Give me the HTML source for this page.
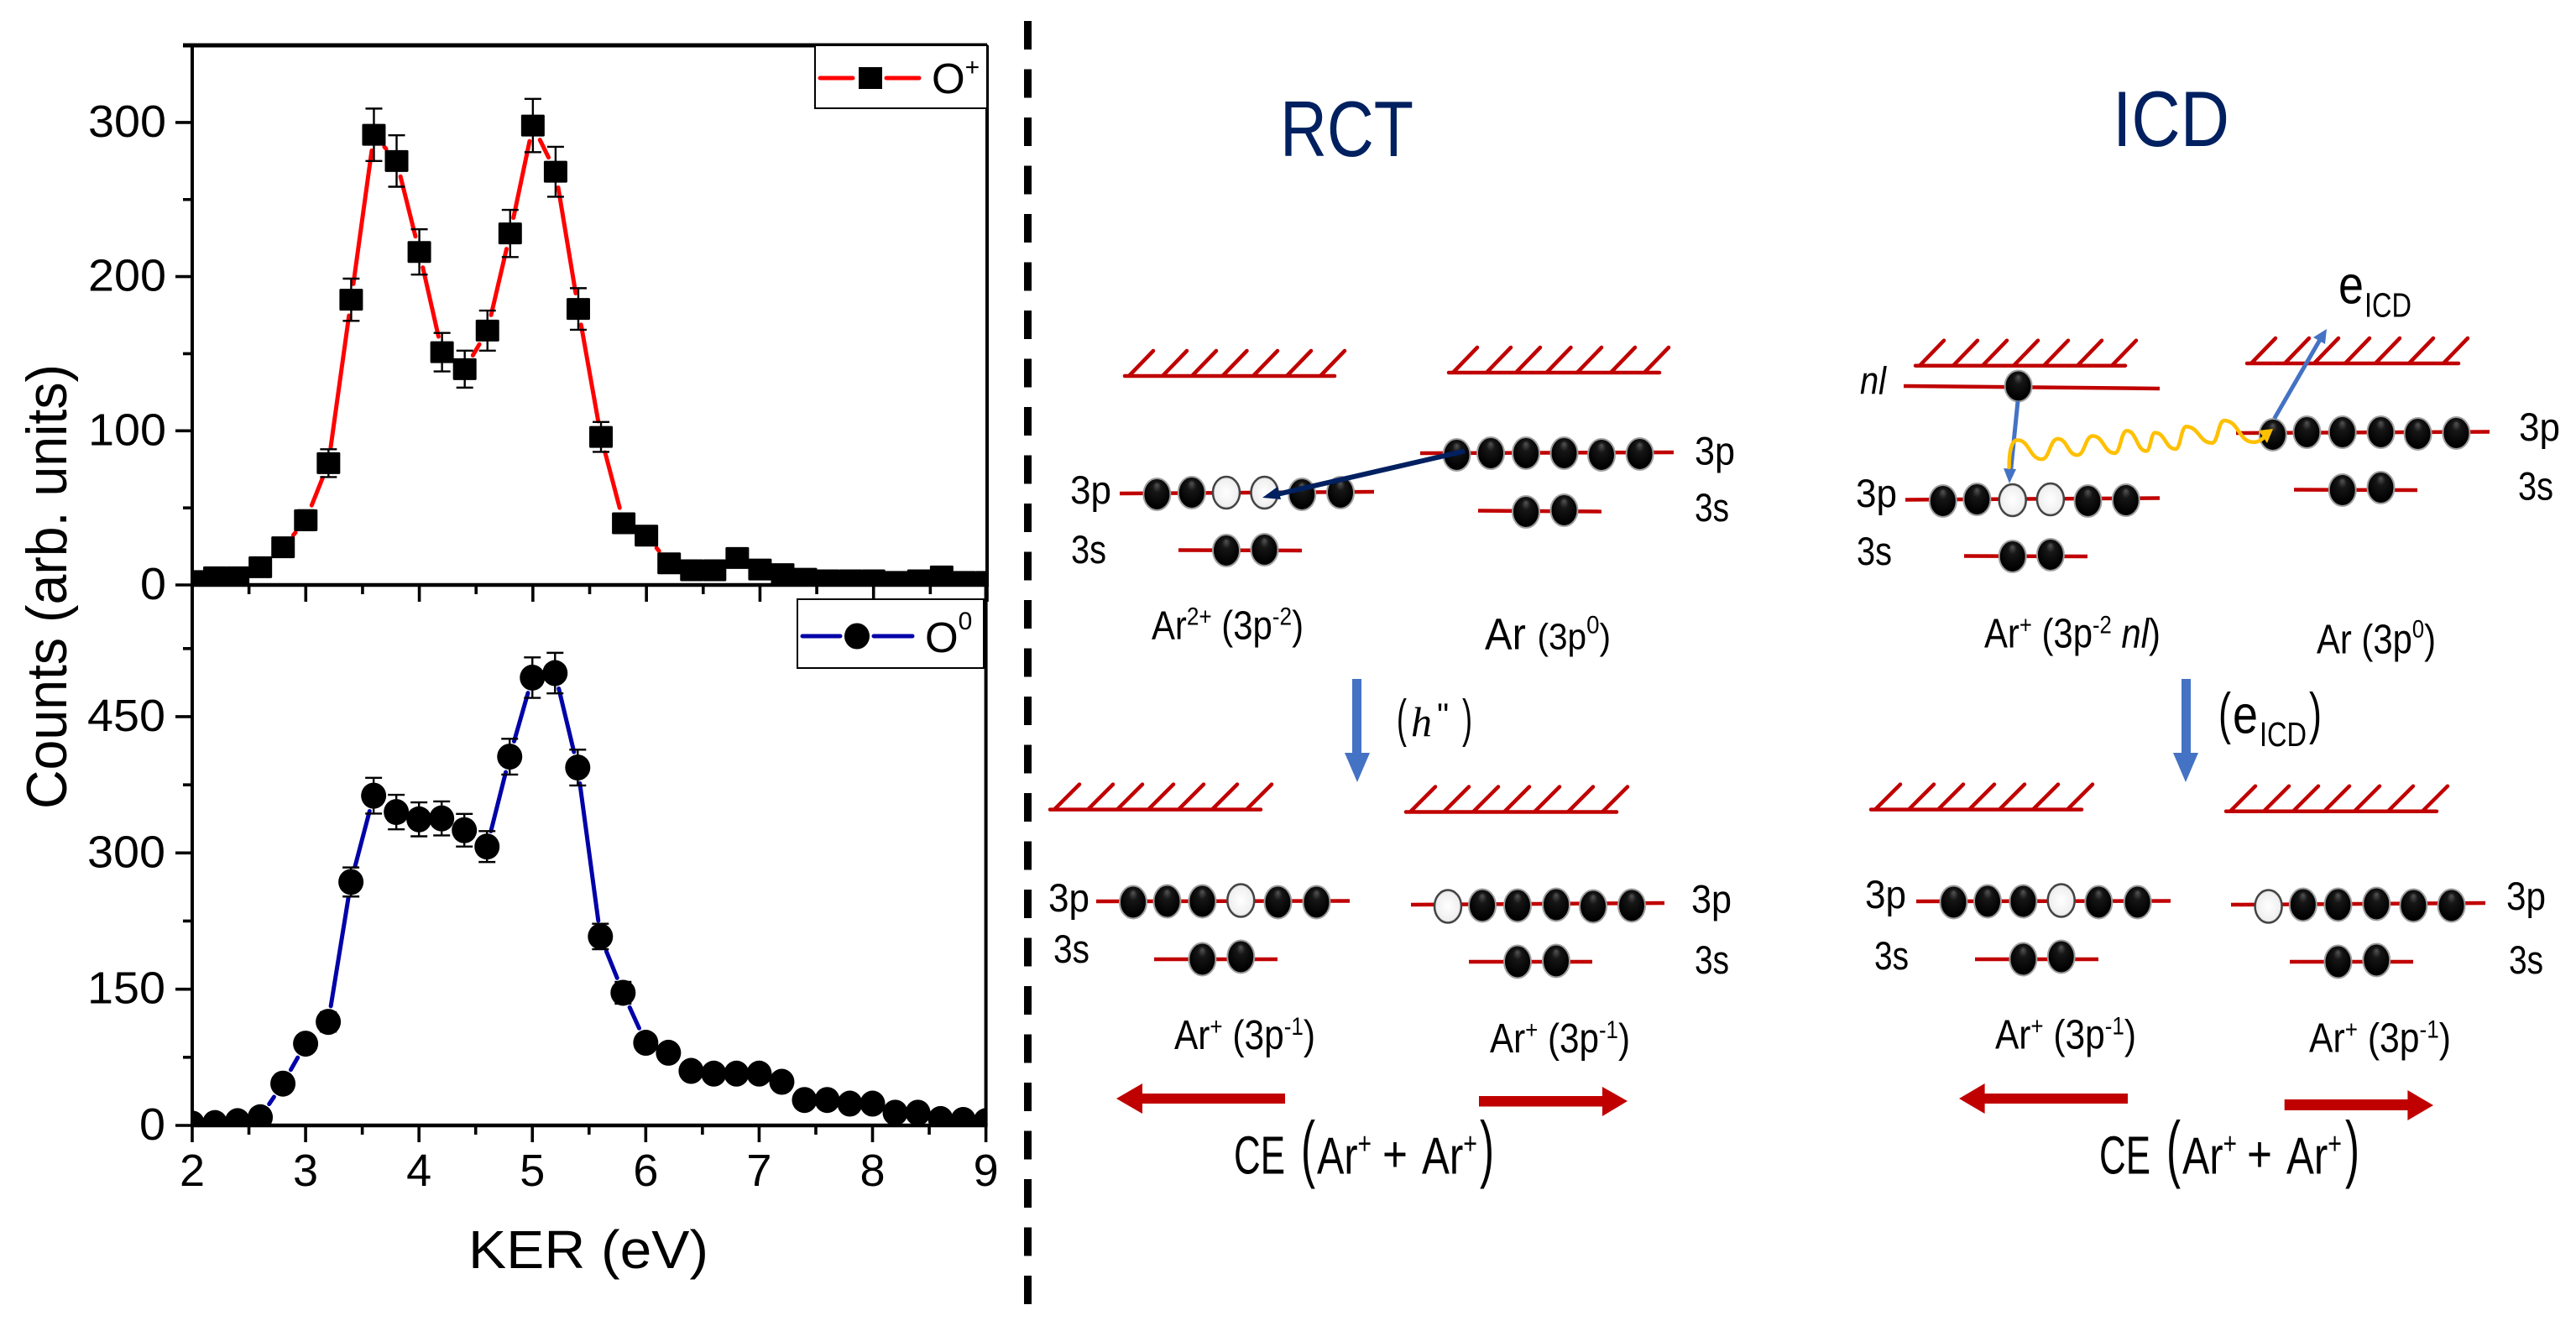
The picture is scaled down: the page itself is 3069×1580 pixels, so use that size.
<!DOCTYPE html>
<html lang="en">
<head>
<meta charset="utf-8">
<title>KER spectra and RCT / ICD schematic</title>
<style>
html,body{margin:0;padding:0;background:#fff;}
svg{display:block;}
text{font-family:"Liberation Sans",sans-serif;fill:#000;}
.lvl{stroke:#c00000;stroke-width:4.5;fill:none;}
.hatch{stroke:#c00000;stroke-width:4.5;fill:none;stroke-linecap:round;}
.ball{fill:url(#ballGrad);stroke:#a0a0a0;stroke-width:2;}
.hole{fill:url(#holeGrad);stroke:#444;stroke-width:2.5;}
.lab{font-size:47px;}
.title{font-size:94px;fill:#002060;}
.tick{font-size:54px;}
</style>
</head>
<body>
<svg id="figure" xmlns="http://www.w3.org/2000/svg" width="3069" height="1580" viewBox="0 0 3069 1580">
<defs>
<radialGradient id="ballGrad" cx="50%" cy="45%" r="55%" fx="50%" fy="20%">
<stop offset="0" stop-color="#555"/><stop offset="0.3" stop-color="#161616"/><stop offset="0.9" stop-color="#000"/><stop offset="1" stop-color="#111"/>
</radialGradient>
<radialGradient id="holeGrad" cx="50%" cy="50%" r="55%">
<stop offset="0" stop-color="#fff"/><stop offset="0.75" stop-color="#f0f0f0"/><stop offset="1" stop-color="#c8c8c8"/>
</radialGradient>
<clipPath id="clipTop"><rect x="227" y="54" width="951" height="643"/></clipPath>
<clipPath id="clipBottom"><rect x="227" y="697" width="949" height="644"/></clipPath>
</defs>
<rect x="0" y="0" width="3069" height="1580" fill="#fff"/>

<g id="chartTop"></g>
<g id="chartBottom"></g>

<text transform="translate(79,964) rotate(-90)" font-size="68" textLength="530" lengthAdjust="spacingAndGlyphs">Counts (arb. units)</text>
<text x="558" y="1511" font-size="64" textLength="286" lengthAdjust="spacingAndGlyphs">KER (eV)</text>

<g>
<rect x="971" y="54" width="205" height="75" fill="#fff" stroke="#000" stroke-width="2"/>
<path d="M977,93H1016M1056,93H1095" stroke="#f00" stroke-width="5" fill="none" stroke-linecap="round"/>
<rect x="1023" y="80" width="28" height="26" fill="#000"/>
<text x="1110" y="111" font-size="51">O<tspan dy="-21" font-size="30">+</tspan></text>
</g>
<g>
<rect x="950" y="714" width="222" height="82" fill="#fff" stroke="#000" stroke-width="2"/>
<path d="M956,758H1001M1041,758H1087" stroke="#0000a8" stroke-width="5" fill="none" stroke-linecap="round"/>
<ellipse cx="1021" cy="758" rx="15" ry="15.5" fill="#000"/>
<text x="1102" y="777" font-size="51">O<tspan dy="-27" font-size="30">0</tspan></text>
</g>

<line x1="1224.5" y1="25" x2="1224.5" y2="1554" stroke="#000" stroke-width="9" stroke-dasharray="34 23.5"/>

<!-- RCT -->
<g>
<text class="title" x="1525" y="186" textLength="159" lengthAdjust="spacingAndGlyphs">RCT</text>

<path class="hatch" d="M1340,448H1590M1345,448l29,-30M1385,448l29,-30M1420,448l29,-30M1456.5,448l29,-30M1493,448l29,-30M1533,448l29,-30M1573,448l29,-30"/>
<path class="hatch" d="M1726,444H1977M1731,444l29,-30M1771,444l29,-30M1806,444l29,-30M1842.5,444l29,-30M1879,444l29,-30M1919,444l29,-30M1959,444l29,-30"/>
<path class="hatch" d="M1251,964.6H1502M1256,964.6l30,-30M1296,964.6l30,-30M1331,964.6l30,-30M1368,964.6l30,-30M1404,964.6l30,-30M1444,964.6l30,-30M1485,964.6l30,-30"/>
<path class="hatch" d="M1675,967.5H1926M1680,967.5l30,-30M1720,967.5l30,-30M1755,967.5l30,-30M1792,967.5l30,-30M1828,967.5l30,-30M1868,967.5l30,-30M1909,967.5l30,-30"/>

<line class="lvl" x1="1334" y1="588" x2="1637" y2="586"/>
<line class="lvl" x1="1404" y1="655.5" x2="1551" y2="656"/>
<line class="lvl" x1="1692" y1="540" x2="1994" y2="539"/>
<line class="lvl" x1="1761" y1="608.5" x2="1908" y2="609.5"/>
<line class="lvl" x1="1306" y1="1074" x2="1608" y2="1073.5"/>
<line class="lvl" x1="1375" y1="1143" x2="1522" y2="1143"/>
<line class="lvl" x1="1681" y1="1078" x2="1983" y2="1076"/>
<line class="lvl" x1="1750" y1="1146" x2="1897" y2="1146"/>

<ellipse class="ball" cx="1378.4" cy="589" rx="16" ry="19"/>
<ellipse class="ball" cx="1419.8" cy="587" rx="16" ry="19"/>
<ellipse class="hole" cx="1461" cy="587" rx="16" ry="19"/>
<ellipse class="hole" cx="1506.5" cy="587" rx="16" ry="19"/>
<ellipse class="ball" cx="1551.2" cy="589" rx="16" ry="19"/>
<ellipse class="ball" cx="1597" cy="587" rx="16" ry="19"/>
<ellipse class="ball" cx="1461" cy="656" rx="16" ry="19"/>
<ellipse class="ball" cx="1506.5" cy="655" rx="16" ry="19"/>

<ellipse class="ball" cx="1735.5" cy="542" rx="16" ry="19"/>
<ellipse class="ball" cx="1776" cy="540" rx="16" ry="19"/>
<ellipse class="ball" cx="1818" cy="540" rx="16" ry="19"/>
<ellipse class="ball" cx="1863.5" cy="540" rx="16" ry="19"/>
<ellipse class="ball" cx="1908" cy="542" rx="16" ry="19"/>
<ellipse class="ball" cx="1953.6" cy="541" rx="16" ry="19"/>
<ellipse class="ball" cx="1818" cy="610" rx="16" ry="19"/>
<ellipse class="ball" cx="1863.5" cy="608" rx="16" ry="19"/>

<line x1="1745" y1="537.5" x2="1515" y2="590.5" stroke="#002060" stroke-width="6"/>
<polygon points="1504,593 1522,580 1526,595" fill="#002060"/>

<text class="lab" x="1275" y="600" textLength="49" lengthAdjust="spacingAndGlyphs">3p</text>
<text class="lab" x="1276" y="671" textLength="42" lengthAdjust="spacingAndGlyphs">3s</text>
<text class="lab" x="2019" y="553.5" textLength="48" lengthAdjust="spacingAndGlyphs">3p</text>
<text class="lab" x="2019" y="621" textLength="41" lengthAdjust="spacingAndGlyphs">3s</text>
<text class="lab" x="1249" y="1086" textLength="49" lengthAdjust="spacingAndGlyphs">3p</text>
<text class="lab" x="1255" y="1147" textLength="43" lengthAdjust="spacingAndGlyphs">3s</text>
<text class="lab" x="2015" y="1087.5" textLength="48" lengthAdjust="spacingAndGlyphs">3p</text>
<text class="lab" x="2019" y="1160" textLength="41" lengthAdjust="spacingAndGlyphs">3s</text>

<text x="1372" y="761.5" font-size="48" textLength="181" lengthAdjust="spacingAndGlyphs">Ar<tspan dy="-17" font-size="30">2+</tspan><tspan dy="17"> (3p</tspan><tspan dy="-17" font-size="30">-2</tspan><tspan dy="17">)</tspan></text>
<text x="1769" y="773.5" font-size="53" textLength="150" lengthAdjust="spacingAndGlyphs">Ar <tspan font-size="44">(3p</tspan><tspan dy="-19" font-size="30">0</tspan><tspan dy="19" font-size="44">)</tspan></text>

<rect x="1611" y="809" width="11" height="89" fill="#4472c4"/>
<polygon points="1602,897 1632,897 1617,932" fill="#4472c4"/>
<text x="1664" y="877" font-size="62" textLength="12" lengthAdjust="spacingAndGlyphs">(</text>
<text x="1681" y="877" font-size="50" font-style="italic" style="font-family:'Liberation Serif',serif">h</text>
<text x="1712" y="866" font-size="40">"</text>
<text x="1742" y="877" font-size="62" textLength="12" lengthAdjust="spacingAndGlyphs">)</text>

<text x="1399" y="1250" font-size="49" textLength="168" lengthAdjust="spacingAndGlyphs">Ar<tspan dy="-17" font-size="30">+</tspan><tspan dy="17"> (3p</tspan><tspan dy="-17" font-size="30">-1</tspan><tspan dy="17">)</tspan></text>
<text x="1775" y="1254" font-size="49" textLength="167" lengthAdjust="spacingAndGlyphs">Ar<tspan dy="-17" font-size="30">+</tspan><tspan dy="17"> (3p</tspan><tspan dy="-17" font-size="30">-1</tspan><tspan dy="17">)</tspan></text>

<ellipse class="ball" cx="1350" cy="1075" rx="16" ry="19.5"/>
<ellipse class="ball" cx="1390.5" cy="1074" rx="16" ry="19.5"/>
<ellipse class="ball" cx="1432.4" cy="1074" rx="16" ry="19.5"/>
<ellipse class="hole" cx="1478.3" cy="1073" rx="16" ry="19.5"/>
<ellipse class="ball" cx="1522.5" cy="1075" rx="16" ry="19.5"/>
<ellipse class="ball" cx="1568.5" cy="1075" rx="16" ry="19.5"/>
<ellipse class="ball" cx="1432.4" cy="1143" rx="16" ry="19.5"/>
<ellipse class="ball" cx="1478.3" cy="1140" rx="16" ry="19.5"/>

<ellipse class="hole" cx="1725" cy="1080" rx="16" ry="19.5"/>
<ellipse class="ball" cx="1766" cy="1079" rx="16" ry="19.5"/>
<ellipse class="ball" cx="1808" cy="1079" rx="16" ry="19.5"/>
<ellipse class="ball" cx="1854" cy="1078" rx="16" ry="19.5"/>
<ellipse class="ball" cx="1898" cy="1080" rx="16" ry="19.5"/>
<ellipse class="ball" cx="1944" cy="1079" rx="16" ry="19.5"/>
<ellipse class="ball" cx="1808" cy="1146" rx="16" ry="19.5"/>
<ellipse class="ball" cx="1854" cy="1145" rx="16" ry="19.5"/>

<polygon points="1330,1309 1361,1291 1361,1303 1531,1303 1531,1315 1361,1315 1361,1327" fill="#c00000"/>
<polygon points="1939,1312 1909,1295 1909,1306 1762,1306 1762,1318.5 1909,1318.5 1909,1330" fill="#c00000"/>
<text x="1470" y="1398.5" font-size="64" textLength="61" lengthAdjust="spacingAndGlyphs">CE</text>
<text x="1550" y="1398" font-size="88" textLength="17" lengthAdjust="spacingAndGlyphs">(</text>
<text x="1569" y="1398.5" font-size="62" textLength="65" lengthAdjust="spacingAndGlyphs">Ar<tspan dy="-24" font-size="36">+</tspan></text>
<text x="1647" y="1396" font-size="60" textLength="30" lengthAdjust="spacingAndGlyphs">+</text>
<text x="1694" y="1398.5" font-size="62" textLength="66" lengthAdjust="spacingAndGlyphs">Ar<tspan dy="-24" font-size="36">+</tspan></text>
<text x="1763" y="1398" font-size="88" textLength="17" lengthAdjust="spacingAndGlyphs">)</text>
</g>

<!-- ICD -->
<g>
<text class="title" x="2517" y="174" textLength="139" lengthAdjust="spacingAndGlyphs">ICD</text>

<path class="hatch" d="M2282,435.7H2532M2287,435.7l29,-30M2327,435.7l29,-30M2362,435.7l29,-30M2399,435.7l29,-30M2435,435.7l29,-30M2475,435.7l29,-30M2516,435.7l29,-30"/>
<path class="hatch" d="M2677,433H2929M2682,433l29,-30M2722,433l29,-30M2757,433l29,-30M2794,433l29,-30M2830,433l29,-30M2870,433l29,-30M2911,433l29,-30"/>
<path class="hatch" d="M2229,964.6H2480M2234,964.6l30,-30M2274,964.6l30,-30M2309,964.6l30,-30M2346,964.6l30,-30M2382,964.6l30,-30M2422,964.6l30,-30M2463,964.6l30,-30"/>
<path class="hatch" d="M2652,966.7H2903M2657,966.7l30,-30M2697,966.7l30,-30M2732,966.7l30,-30M2769,966.7l30,-30M2805,966.7l30,-30M2845,966.7l30,-30M2886,966.7l30,-30"/>

<line class="lvl" x1="2268" y1="460" x2="2573" y2="463"/>
<line class="lvl" x1="2270" y1="595.5" x2="2573" y2="593.5"/>
<line class="lvl" x1="2340" y1="662.5" x2="2487" y2="663"/>
<line class="lvl" x1="2664" y1="516" x2="2966" y2="514.5"/>
<line class="lvl" x1="2733" y1="583.5" x2="2880" y2="584"/>
<line class="lvl" x1="2283" y1="1074" x2="2586" y2="1073.5"/>
<line class="lvl" x1="2353" y1="1143" x2="2500" y2="1143"/>
<line class="lvl" x1="2658" y1="1078" x2="2961" y2="1076"/>
<line class="lvl" x1="2728" y1="1146" x2="2875" y2="1146"/>

<ellipse class="ball" cx="2404.6" cy="460" rx="16" ry="18.5"/>
<ellipse class="ball" cx="2314.8" cy="597" rx="16" ry="19"/>
<ellipse class="ball" cx="2355.4" cy="595" rx="16" ry="19"/>
<ellipse class="hole" cx="2397.7" cy="596" rx="16" ry="19"/>
<ellipse class="hole" cx="2442.9" cy="595" rx="16" ry="19"/>
<ellipse class="ball" cx="2487.5" cy="597" rx="16" ry="19"/>
<ellipse class="ball" cx="2532.8" cy="596" rx="16" ry="19"/>
<ellipse class="ball" cx="2397.7" cy="663" rx="16" ry="19"/>
<ellipse class="ball" cx="2442.9" cy="661" rx="16" ry="19"/>

<ellipse class="ball" cx="2707.8" cy="518" rx="16" ry="19"/>
<ellipse class="ball" cx="2748.4" cy="515" rx="16" ry="19"/>
<ellipse class="ball" cx="2790.7" cy="515" rx="16" ry="19"/>
<ellipse class="ball" cx="2836.5" cy="515" rx="16" ry="19"/>
<ellipse class="ball" cx="2880.6" cy="517" rx="16" ry="19"/>
<ellipse class="ball" cx="2926.4" cy="516" rx="16" ry="19"/>
<ellipse class="ball" cx="2790.7" cy="584" rx="16" ry="19"/>
<ellipse class="ball" cx="2836.5" cy="581" rx="16" ry="19"/>

<line x1="2404" y1="478" x2="2395.5" y2="562" stroke="#4472c4" stroke-width="5"/>
<polygon points="2394,576 2387,558 2402,559" fill="#4472c4"/>
<line x1="2709.6" y1="498.7" x2="2765" y2="403" stroke="#4472c4" stroke-width="5"/>
<polygon points="2772,392 2770,410 2756,402" fill="#4472c4"/>

<path fill="none" stroke="#ffc000" stroke-width="4.5" stroke-linecap="round" d="M2393.6,556.9C2393.6,540 2396,524.4 2403.5,524.4C2418,524.4 2418,547.2 2432.5,547.2C2442,547.2 2442,522.9 2451.6,522.9C2463.2,522.9 2463.2,542.3 2474.8,542.3C2484,542.3 2484,519.5 2493.3,519.5C2506.3,519.5 2506.3,539.9 2519.4,539.9C2526.6,539.9 2526.6,513.2 2533.9,513.2C2545.5,513.2 2545.5,537.5 2557.1,537.5C2562.3,537.5 2562.3,515.6 2567.5,515.6C2579.7,515.6 2579.7,535 2591.9,535C2598.2,535 2598.2,508.4 2604.6,508.4C2620,508.4 2620,527.8 2635.4,527.8C2642.6,527.8 2642.6,501.1 2649.9,501.1C2667.2,501.1 2667.2,526.8 2684.6,526.8C2691,526.8 2695,524 2700,518"/>
<polygon points="2708,511 2691,513 2701,528" fill="#ffc000"/>

<text x="2216" y="469.6" font-size="46" font-style="italic" textLength="31" lengthAdjust="spacingAndGlyphs">nl</text>
<text class="lab" x="2211" y="604" textLength="49" lengthAdjust="spacingAndGlyphs">3p</text>
<text class="lab" x="2212" y="673" textLength="42" lengthAdjust="spacingAndGlyphs">3s</text>
<text class="lab" x="3001" y="525" textLength="49" lengthAdjust="spacingAndGlyphs">3p</text>
<text class="lab" x="3000" y="595.6" textLength="42" lengthAdjust="spacingAndGlyphs">3s</text>
<text class="lab" x="2222" y="1082" textLength="49" lengthAdjust="spacingAndGlyphs">3p</text>
<text class="lab" x="2233" y="1154.8" textLength="41" lengthAdjust="spacingAndGlyphs">3s</text>
<text class="lab" x="2986" y="1084" textLength="47" lengthAdjust="spacingAndGlyphs">3p</text>
<text class="lab" x="2989" y="1160" textLength="41" lengthAdjust="spacingAndGlyphs">3s</text>

<text x="2786" y="361.5" font-size="64" textLength="30" lengthAdjust="spacingAndGlyphs">e</text>
<text x="2817" y="377.5" font-size="41" textLength="56" lengthAdjust="spacingAndGlyphs">ICD</text>

<text x="2364" y="771.6" font-size="49" textLength="210" lengthAdjust="spacingAndGlyphs">Ar<tspan dy="-17" font-size="30">+</tspan><tspan dy="17"> (3p</tspan><tspan dy="-17" font-size="30">-2</tspan><tspan dy="17" font-style="italic"> nl</tspan><tspan>)</tspan></text>
<text x="2760" y="778.4" font-size="49" textLength="142" lengthAdjust="spacingAndGlyphs">Ar (3p<tspan dy="-19" font-size="30">0</tspan><tspan dy="19">)</tspan></text>

<rect x="2599" y="809" width="11" height="89" fill="#4472c4"/>
<polygon points="2589,897 2619,897 2604,932" fill="#4472c4"/>
<text x="2643" y="873" font-size="68" textLength="15" lengthAdjust="spacingAndGlyphs">(</text>
<text x="2660" y="873.6" font-size="64" textLength="30" lengthAdjust="spacingAndGlyphs">e</text>
<text x="2692" y="889" font-size="41" textLength="56" lengthAdjust="spacingAndGlyphs">ICD</text>
<text x="2751" y="873" font-size="68" textLength="15" lengthAdjust="spacingAndGlyphs">)</text>

<ellipse class="ball" cx="2327.5" cy="1075" rx="16" ry="19.5"/>
<ellipse class="ball" cx="2368" cy="1074" rx="16" ry="19.5"/>
<ellipse class="ball" cx="2410.4" cy="1074" rx="16" ry="19.5"/>
<ellipse class="hole" cx="2455.7" cy="1073" rx="16" ry="19.5"/>
<ellipse class="ball" cx="2500.3" cy="1075" rx="16" ry="19.5"/>
<ellipse class="ball" cx="2546.7" cy="1075" rx="16" ry="19.5"/>
<ellipse class="ball" cx="2410.4" cy="1143" rx="16" ry="19.5"/>
<ellipse class="ball" cx="2455.7" cy="1140" rx="16" ry="19.5"/>

<ellipse class="hole" cx="2702.6" cy="1080" rx="16" ry="19.5"/>
<ellipse class="ball" cx="2743.8" cy="1078" rx="16" ry="19.5"/>
<ellipse class="ball" cx="2785.5" cy="1078" rx="16" ry="19.5"/>
<ellipse class="ball" cx="2831.3" cy="1077" rx="16" ry="19.5"/>
<ellipse class="ball" cx="2875.4" cy="1079" rx="16" ry="19.5"/>
<ellipse class="ball" cx="2920.6" cy="1079" rx="16" ry="19.5"/>
<ellipse class="ball" cx="2785.5" cy="1146" rx="16" ry="19.5"/>
<ellipse class="ball" cx="2831.3" cy="1144" rx="16" ry="19.5"/>

<text x="2377" y="1249.5" font-size="49" textLength="168" lengthAdjust="spacingAndGlyphs">Ar<tspan dy="-17" font-size="30">+</tspan><tspan dy="17"> (3p</tspan><tspan dy="-17" font-size="30">-1</tspan><tspan dy="17">)</tspan></text>
<text x="2751" y="1253.7" font-size="49" textLength="169" lengthAdjust="spacingAndGlyphs">Ar<tspan dy="-17" font-size="30">+</tspan><tspan dy="17"> (3p</tspan><tspan dy="-17" font-size="30">-1</tspan><tspan dy="17">)</tspan></text>

<polygon points="2334,1309 2364.6,1291 2364.6,1303 2535,1303 2535,1315 2364.6,1315 2364.6,1327" fill="#c00000"/>
<polygon points="2899,1317 2868.4,1299 2868.4,1310 2721.7,1310 2721.7,1323 2868.4,1323 2868.4,1335" fill="#c00000"/>
<text x="2501" y="1398.5" font-size="64" textLength="61" lengthAdjust="spacingAndGlyphs">CE</text>
<text x="2581" y="1398" font-size="88" textLength="17" lengthAdjust="spacingAndGlyphs">(</text>
<text x="2600" y="1398.5" font-size="62" textLength="65" lengthAdjust="spacingAndGlyphs">Ar<tspan dy="-24" font-size="36">+</tspan></text>
<text x="2677" y="1396" font-size="60" textLength="30" lengthAdjust="spacingAndGlyphs">+</text>
<text x="2724" y="1398.5" font-size="62" textLength="66" lengthAdjust="spacingAndGlyphs">Ar<tspan dy="-24" font-size="36">+</tspan></text>
<text x="2794" y="1398" font-size="88" textLength="17" lengthAdjust="spacingAndGlyphs">)</text>
</g>
</svg>

<script>
const kerValues = [2,2.2,2.4,2.6,2.8,3,3.2,3.4,3.6,3.8,4,4.2,4.4,4.6,4.8,5,5.2,5.4,5.6,5.8,6,6.2,6.4,6.6,6.8,7,7.2,7.4,7.6,7.8,8,8.2,8.4,8.6,8.8,9];
const oPlusCounts = [2.5,5,5,11.5,24.4,42,79,185,292,275,216,151,140,165,228,298,268,179,96,40,32,14,9.5,9.5,17.5,10,7,4,3,3,3,2,3,5.5,2,2];
const oPlusErrors = [1.5,2,2,3.5,5,6.5,9,13.7,17,16.7,14.7,12.5,12,13,15.3,17.3,16.2,13.5,9.7,6.3,5.6,3.7,3,3,4.2,3,2.6,2,1.7,1.7,1.7,1.4,1.7,2.3,1.4,1.4];
const oZeroCounts = [2,2.6,4.7,9,46,90,114,268,363,345,337,338,325,307,406,493,498,394,208,146,91,80,60,57,57,57,48,28,28,24,24,14,14,7,6,4.7];
const oZeroErrors = [1.4,1.6,2.2,3,6.8,9.5,10.7,16,19.7,19,18.7,18.7,18,17,19.7,22.3,22.3,19.7,14,12,9.5,9,7.7,7.5,7.5,7.5,7,5.3,5.3,4.9,4.9,3.7,3.7,2.6,2.4,2.2];
const xTickLabels = ["2","3","4","5","6","7","8","9"];
const xMinorTicks = [2.5,3.5,4.5,5.5,6.5,7.5,8.5];
const topYTickValues = [0,100,200,300];
const topYMinorValues = [50,150,250,350];
const bottomYTickValues = [0,150,300,450];
const bottomYMinorValues = [75,225,375,525];

const SVG_NS = 'http://www.w3.org/2000/svg';
function make(parent, tag, attrs) {
  const el = document.createElementNS(SVG_NS, tag);
  for (const k in attrs) el.setAttribute(k, attrs[k]);
  parent.appendChild(el);
  return el;
}
function axisX(left, right) { return v => left + (v - 2) * (right - left) / 7; }
function axisY(zeroY, pxPerUnit) { return v => zeroY - v * pxPerUnit; }

function drawSeriesLine(group, xs, ys, xFn, yFn, color, trim) {
  for (let i = 0; i < xs.length - 1; i++) {
    const x0 = xFn(xs[i]), y0 = yFn(ys[i]), x1 = xFn(xs[i + 1]), y1 = yFn(ys[i + 1]);
    const len = Math.hypot(x1 - x0, y1 - y0);
    if (len <= trim * 2) continue;
    const ux = (x1 - x0) / len, uy = (y1 - y0) / len;
    const seg = make(group, 'line', { x1: x0 + ux * trim, y1: y0 + uy * trim, x2: x1 - ux * trim, y2: y1 - uy * trim, stroke: color, 'stroke-width': 5, 'stroke-linecap': 'round' });
    
    
  }
}
function drawErrorBars(group, xs, ys, errs, xFn, yFn) {
  for (let i = 0; i < xs.length; i++) {
    const x = xFn(xs[i]), yTop = yFn(ys[i] + errs[i]), yBot = yFn(ys[i] - errs[i]);
    const bar = make(group, 'path', { d: `M${x},${yTop}V${yBot}M${x - 10},${yTop}h20M${x - 10},${yBot}h20`, stroke: '#000', 'stroke-width': 2.4, fill: 'none' });
    
    
  }
}
function drawAxes(group, cfg) {
  const { xFn, yFn, left, right, top, zero, major, minor, labelX } = cfg;
  const ticks = [];
  major.forEach(v => ticks.push(`M${left - 20},${yFn(v)}H${left}`));
  minor.forEach(v => ticks.push(`M${left - 11},${yFn(v)}H${left}`));
  xTickLabels.forEach(l => ticks.push(`M${xFn(+l)},${zero}V${zero + 20}`));
  xMinorTicks.forEach(v => ticks.push(`M${xFn(v)},${zero}V${zero + 11}`));
  const tk = make(group, 'path', { d: ticks.join(''), stroke: '#000', 'stroke-width': 3.6, fill: 'none' });
  
  
  const frame = make(group, 'path', { d: `M${left},${top}V${zero}M${right},${top}V${zero}`, stroke: '#000', 'stroke-width': 4, fill: 'none' });
  
  
  const base = make(group, 'line', { x1: left - 2, y1: zero, x2: right + 2, y2: zero, stroke: '#000', 'stroke-width': 4.5 });
  
  
  major.forEach(v => {
    const label = String(v);
    const t = make(group, 'text', { x: labelX, y: yFn(v) + 17, 'text-anchor': 'end', class: 'tick', textLength: 31 * label.length, lengthAdjust: 'spacingAndGlyphs' });
    t.textContent = label;
    
    
  });
}

// O+ panel (red, square markers)
const gTop = document.getElementById('chartTop');
const xTop = axisX(229, 1176);
const yTop = axisY(697, 1.837);
drawSeriesLine(gTop, kerValues, oPlusCounts, xTop, yTop, '#ff0000', 19);
const gTopMarks = make(gTop, 'g', { 'clip-path': 'url(#clipTop)' });


drawErrorBars(gTopMarks, kerValues, oPlusCounts, oPlusErrors, xTop, yTop);
kerValues.forEach((k, i) => {
  const m = make(gTopMarks, 'rect', { x: xTop(k) - 14, y: yTop(oPlusCounts[i]) - 13, width: 28, height: 26, rx: 1.5, fill: '#000' });
  
  
});
drawAxes(gTop, { xFn: xTop, yFn: yTop, left: 229, right: 1176, top: 54, zero: 697, major: topYTickValues, minor: topYMinorValues, labelX: 198 });
const topBorder = make(gTop, 'path', { d: 'M218,54H1176', stroke: '#000', 'stroke-width': 5, fill: 'none' });



// O0 panel (blue, circle markers)
const gBot = document.getElementById('chartBottom');
const xBot = axisX(229, 1174.6);
const yBot = axisY(1341, 1.0823);
drawSeriesLine(gBot, kerValues, oZeroCounts, xBot, yBot, '#0000a8', 19);
const gBotMarks = make(gBot, 'g', { 'clip-path': 'url(#clipBottom)' });


drawErrorBars(gBotMarks, kerValues, oZeroCounts, oZeroErrors, xBot, yBot);
kerValues.forEach((k, i) => {
  const m = make(gBotMarks, 'ellipse', { cx: xBot(k), cy: yBot(oZeroCounts[i]), rx: 15, ry: 15.5, fill: '#000' });
  
  
});
drawAxes(gBot, { xFn: xBot, yFn: yBot, left: 229, right: 1174.6, top: 697, zero: 1341, major: bottomYTickValues, minor: bottomYMinorValues, labelX: 197 });
xTickLabels.forEach(l => {
  const t = make(gBot, 'text', { x: xBot(+l), y: 1413, 'text-anchor': 'middle', class: 'tick' });
  t.textContent = l;
  
  
});
</script>
</body>
</html>
